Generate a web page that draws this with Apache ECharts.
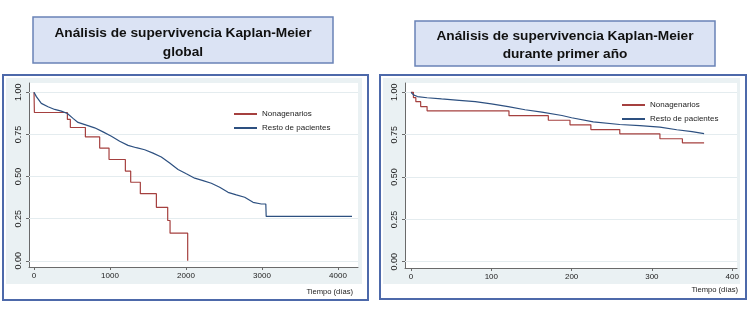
<!DOCTYPE html>
<html>
<head>
<meta charset="utf-8">
<script src="https://cdn.jsdelivr.net/npm/echarts@6/dist/echarts.min.js"></script>
<style>
  html, body { margin: 0; padding: 0; background: #fff; }
  #main { width: 750px; height: 316px; }
</style>
</head>
<body>
<div id="main"></div>
<script>
// ticks
var yTicks = [0, 0.25, 0.5, 0.75, 1];
var globalTicks = [0, 1000, 2000, 3000, 4000];
var anioTicks = [0, 100, 200, 300, 400];

// global: nonagenarios
var globalNonagT = [0, 5, 439, 478, 676, 864, 987, 1202, 1272, 1399, 1610, 1759, 1790, 2022];
var globalNonagS = [1.0, 0.88, 0.839, 0.791, 0.735, 0.669, 0.601, 0.532, 0.466, 0.398, 0.317, 0.239, 0.164, 0.0];
// global: resto de pacientes
var globalRestoT = [0, 9, 31, 96, 184, 272, 360, 439, 513, 579, 689, 798, 908, 1018, 1127, 1237, 1346, 1456,
  1566, 1675, 1785, 1895, 2004, 2114, 2224, 2333, 2443, 2553, 2662, 2772, 2882, 2991, 3050, 3055, 4184];
var globalRestoS = [1.0, 0.99, 0.974, 0.934, 0.914, 0.898, 0.888, 0.874, 0.845, 0.821, 0.805, 0.789, 0.765, 0.739,
  0.709, 0.685, 0.671, 0.659, 0.639, 0.616, 0.58, 0.542, 0.516, 0.49, 0.476, 0.46, 0.436, 0.406, 0.391, 0.377,
  0.347, 0.337, 0.337, 0.263, 0.263];

// primer año: nonagenarios
var anioNonagT = [0, 3, 6, 12, 20, 122, 171, 198, 224, 260, 310, 338, 365];
var anioNonagS = [1.0, 0.969, 0.945, 0.916, 0.891, 0.862, 0.835, 0.808, 0.78, 0.755, 0.726, 0.702, 0.702];
// primer año: resto de pacientes
var anioRestoT = [0, 3, 8, 20, 38, 60, 80, 100, 121, 142, 163, 188, 200, 227, 260, 285, 310, 331, 350, 365];
var anioRestoS = [1.0, 0.985, 0.975, 0.968, 0.961, 0.953, 0.945, 0.932, 0.916, 0.897, 0.883, 0.863, 0.85,
  0.826, 0.81, 0.803, 0.795, 0.779, 0.768, 0.756];

var colorNonag = '#a5403f';
var colorResto = '#2d5080';
var axisColor = '#6a6a6a';
var gridColor = '#e4ecef';
var font = '"Liberation Sans", Arial, sans-serif';

function zip(t, s) {
  return t.map(function (v, i) { return [v, s[i]]; });
}

function makeX(idx, ticks, min, max) {
  return {
    type: 'value', gridIndex: idx, min: min, max: max,
    axisLine: { show: true, onZero: false, lineStyle: { color: axisColor, width: 1 } },
    axisTick: { show: true, length: 3, customValues: ticks, lineStyle: { color: axisColor } },
    axisLabel: {
      customValues: ticks, margin: 5, fontSize: 8, color: '#222', fontFamily: font,
      formatter: function (v) { return String(v); }
    },
    splitLine: { show: false }
  };
}

function makeY(idx) {
  return {
    type: 'value', gridIndex: idx, min: -0.037, max: 1.055,
    axisLine: { show: true, onZero: false, lineStyle: { color: axisColor, width: 1 } },
    axisTick: { show: true, length: 3, customValues: yTicks, lineStyle: { color: axisColor } },
    axisLabel: {
      customValues: yTicks, rotate: 90, margin: 6, fontSize: 9, color: '#222', fontFamily: font,
      formatter: function (v) { return v.toFixed(2); }
    },
    splitLine: { show: false }
  };
}

// horizontal grid lines, on a series of their own drawn under the curves
function gridSeries(idx) {
  return {
    name: 'grid' + idx, type: 'line', xAxisIndex: idx, yAxisIndex: idx, data: [],
    z: 1, silent: true, animation: false,
    markLine: {
      silent: true, symbol: 'none', label: { show: false }, animation: false,
      lineStyle: { color: gridColor, type: 'solid', width: 1 },
      emphasis: { disabled: true },
      data: yTicks.map(function (v) { return { yAxis: v }; })
    }
  };
}

function kmSeries(name, idx, data, color, stepped) {
  return {
    name: name, type: 'line', step: stepped ? 'end' : false, xAxisIndex: idx, yAxisIndex: idx,
    data: data, showSymbol: false, symbol: 'none', animation: false,
    lineStyle: { color: color, width: 1.2 }, itemStyle: { color: color }, z: 5
  };
}

function legend(left, top) {
  return {
    left: left, top: top, orient: 'vertical', itemWidth: 23, itemHeight: 2, itemGap: 4,
    icon: 'rect', selectedMode: false,
    textStyle: { fontSize: 8, color: '#222', fontFamily: font, lineHeight: 10 },
    data: ['Nonagenarios', 'Resto de pacientes']
  };
}

function titleBox(x, y, w, h, l1, l2, y1, y2) {
  return [
    { type: 'rect', z: -5, shape: { x: x, y: y, width: w, height: h },
      style: { fill: '#dbe3f4', stroke: '#6a83b6', lineWidth: 1.5 } },
    { type: 'text', z: 5, x: x + w / 2, y: y1,
      style: { text: l1, textAlign: 'center', textVerticalAlign: 'middle', fill: '#111',
        font: 'bold 13.7px ' + font } },
    { type: 'text', z: 5, x: x + w / 2, y: y2,
      style: { text: l2, textAlign: 'center', textVerticalAlign: 'middle', fill: '#111',
        font: 'bold 13.7px ' + font } }
  ];
}

function panel(x, y, w, h, gx, gy, gw, gh, lx, ly) {
  return [
    { type: 'rect', z: -10, shape: { x: x, y: y, width: w, height: h },
      style: { fill: '#fff', stroke: '#4d69aa', lineWidth: 2 } },
    { type: 'rect', z: -9, shape: { x: gx, y: gy, width: gw, height: gh },
      style: { fill: '#eaf1f3' } },
    { type: 'text', z: 5, x: lx, y: ly,
      style: { text: 'Tiempo (días)', textAlign: 'right', textVerticalAlign: 'middle', fill: '#222',
        font: '7.6px ' + font } }
  ];
}

var myChart = echarts.init(document.getElementById('main'), null, { renderer: 'canvas' });

var option = {
  animation: false,
  backgroundColor: '#fff',
  grid: [
    { left: 29, right: 392, top: 83, bottom: 49, show: true, backgroundColor: '#fff', borderWidth: 0 },
    { left: 405, right: 13, top: 83, bottom: 48, show: true, backgroundColor: '#fff', borderWidth: 0 }
  ],
  xAxis: [makeX(0, globalTicks, -66, 4263), makeX(1, anioTicks, -7.5, 406)],
  yAxis: [makeY(0), makeY(1)],
  legend: [legend(229, 104), legend(617, 95)],
  graphic: [].concat(
    panel(3, 75, 365, 225, 6, 78, 356, 206, 353, 292),
    panel(380, 75, 366, 224, 383, 78, 357, 206, 738, 290),
    titleBox(33, 17, 300, 46, 'Análisis de supervivencia Kaplan-Meier', 'global', 33, 52),
    titleBox(415, 21, 300, 45, 'Análisis de supervivencia Kaplan-Meier', 'durante primer año', 36, 54)
  ),
  series: [
    gridSeries(0),
    gridSeries(1),
    kmSeries('Nonagenarios', 0, zip(globalNonagT, globalNonagS), colorNonag, true),
    kmSeries('Resto de pacientes', 0, zip(globalRestoT, globalRestoS), colorResto, false),
    kmSeries('Nonagenarios', 1, zip(anioNonagT, anioNonagS), colorNonag, true),
    kmSeries('Resto de pacientes', 1, zip(anioRestoT, anioRestoS), colorResto, false)
  ]
};

myChart.setOption(option);
</script>
</body>
</html>
